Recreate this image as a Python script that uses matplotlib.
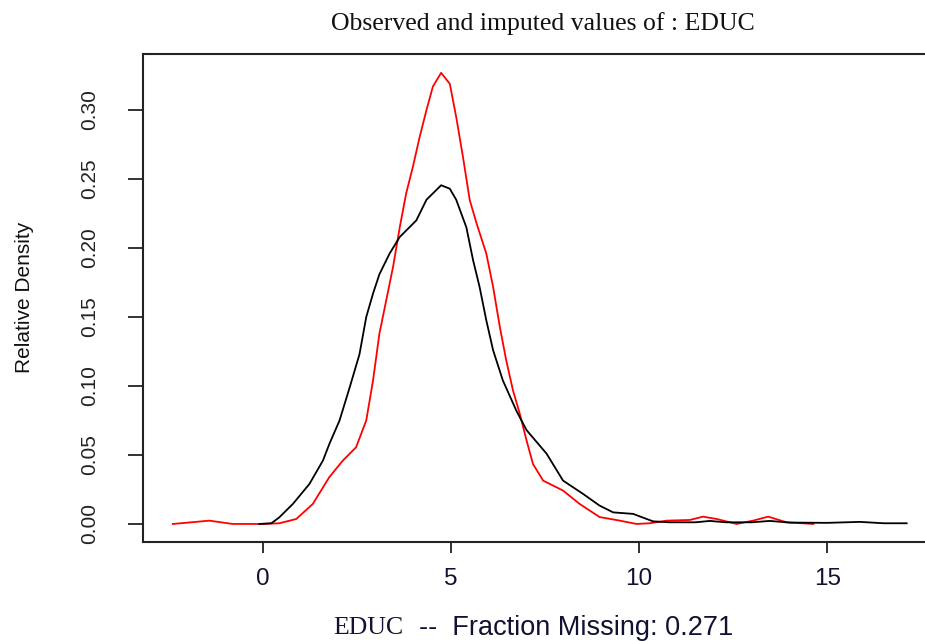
import matplotlib
matplotlib.use("Agg")
import matplotlib.pyplot as plt

# densities (observed = black, imputed = red)
obs_x = [-0.09, 0.23, 0.44, 0.80, 1.24, 1.60, 1.77, 2.04, 2.31, 2.57, 2.75, 2.93, 3.10,
         3.37, 3.64, 4.08, 4.35, 4.74, 4.97, 5.14, 5.41, 5.59, 5.76, 5.94, 6.12, 6.38,
         6.74, 7.01, 7.54, 7.98, 8.51, 8.95, 9.31, 9.84, 10.37, 10.8, 11.5, 11.88, 12.3,
         13.0, 13.47, 14.0, 15.0, 15.87, 16.5, 17.11]
obs_y = [0, 0.0005, 0.0048, 0.0145, 0.029, 0.046, 0.058, 0.075, 0.099, 0.123, 0.150,
         0.167, 0.181, 0.196, 0.208, 0.220, 0.235, 0.2455, 0.243, 0.235, 0.215, 0.191,
         0.172, 0.1476, 0.126, 0.104, 0.082, 0.068, 0.051, 0.0314, 0.0218, 0.0133, 0.0084,
         0.0073, 0.0019, 0.0012, 0.0012, 0.0022, 0.0012, 0.0012, 0.0022, 0.0010, 0.0008,
         0.0015, 0.0005, 0.0005]

imp_x = [-2.39, -1.9, -1.42, -0.80, 0.0, 0.44, 0.89, 1.33, 1.77, 2.13, 2.48, 2.75, 2.93,
         3.10, 3.28, 3.46, 3.64, 3.81, 3.99, 4.17, 4.35, 4.52, 4.74, 4.97, 5.14, 5.32,
         5.50, 5.68, 5.94, 6.12, 6.30, 6.47, 6.65, 6.83, 7.01, 7.18, 7.45, 7.98, 8.42,
         8.95, 9.49, 9.93, 10.28, 10.73, 11.35, 11.70, 12.06, 12.59, 13.03, 13.43, 13.92,
         14.63]
imp_y = [0, 0.0012, 0.0024, 0.0, 0.0, 0.0005, 0.0036, 0.0145, 0.034, 0.046, 0.0556, 0.075,
         0.104, 0.138, 0.162, 0.186, 0.215, 0.2395, 0.259, 0.2806, 0.300, 0.317, 0.327,
         0.319, 0.295, 0.266, 0.2347, 0.218, 0.196, 0.172, 0.1427, 0.1185, 0.0967, 0.0798,
         0.0605, 0.0435, 0.0314, 0.0242, 0.0145, 0.0050, 0.0024, 0.0, 0.0005, 0.0024,
         0.0029, 0.0053, 0.0036, 0.0, 0.0024, 0.0053, 0.0012, 0.0]

x_ticks = [0, 5, 10, 15]
y_ticks = [0.00, 0.05, 0.10, 0.15, 0.20, 0.25, 0.30]
y_labels = ["0.00", "0.05", "0.10", "0.15", "0.20", "0.25", "0.30"]

sans = "Liberation Sans"
serif = "Liberation Serif"

fig = plt.figure(figsize=(9.25, 6.41), dpi=100)
ax = fig.add_axes([0.1551, 0.1544, 0.8564, 0.7613])

ax.plot(imp_x, imp_y, color="#ff0000", lw=1.3)
ax.plot(obs_x, obs_y, color="black", lw=1.3)

ax.set_xlim(-3.17, 17.88)
ax.set_ylim(-0.0131, 0.3406)

for s in ax.spines.values():
    s.set_linewidth(1.5)
    s.set_color("#222222")

ax.set_xticks(x_ticks)
ax.set_xticklabels([str(v) for v in x_ticks], fontfamily=sans, fontsize=17.5)
ax.set_yticks(y_ticks)
ax.set_yticklabels(y_labels, fontfamily=sans, fontsize=15, rotation=90, va="center")
ax.tick_params(axis="x", length=8, width=1.3, pad=11, colors="#222222", labelcolor="#111133")
ax.tick_params(axis="y", length=11, width=1.3, pad=21, colors="#222222", labelcolor="#222222")

fig.text(543 / 925, 1 - 24 / 641, "Observed and imputed values of : EDUC",
         family=serif, fontsize=18.5, ha="center", va="center", color="#111111")
fig.text(25 / 925, 1 - 297 / 641, "Relative Density", family=sans, fontsize=15,
         rotation=90, ha="center", va="center", color="#111111")
fig.text(403 / 925, 1 - 628 / 641, "EDUC", family=serif, fontsize=18.5,
         ha="right", va="center", color="#111133")
fig.text(419 / 925, 1 - 628 / 641, "--  Fraction Missing: 0.271", family=sans, fontsize=19.5,
         ha="left", va="center", color="#111133")

fig.savefig("out.png", dpi=100)
